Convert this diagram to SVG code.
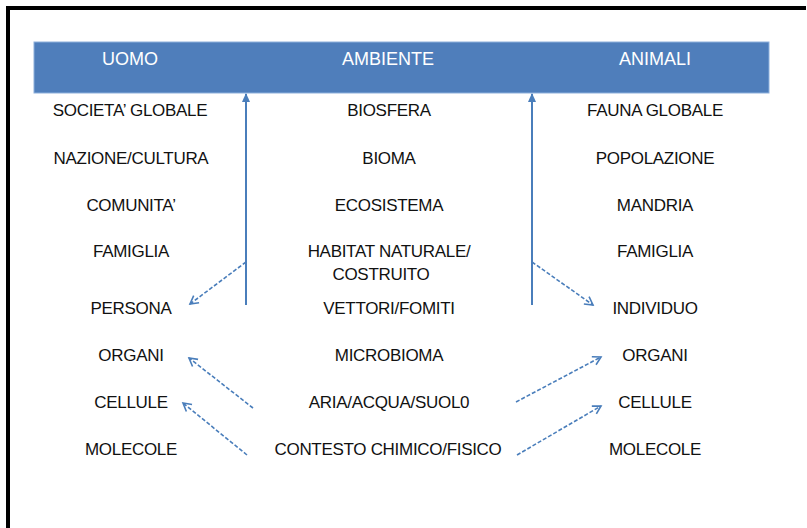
<svg xmlns="http://www.w3.org/2000/svg" width="807" height="528" viewBox="0 0 807 528">
<style>
.t{font-family:"Liberation Sans",Arial,sans-serif;font-size:17px;letter-spacing:-0.3px;fill:#111111;text-anchor:middle}
.h{font-family:"Liberation Sans",Arial,sans-serif;font-size:18px;fill:#ffffff;text-anchor:middle}
.solid{stroke:#4a7ebb;stroke-width:2;fill:none}
.dash{stroke:#4a7ebb;stroke-width:1.6;fill:none;stroke-dasharray:4 2}
</style>
<defs>
<marker id="tri" markerWidth="10" markerHeight="10" refX="8" refY="5" orient="auto" markerUnits="userSpaceOnUse">
<path d="M0,1 L9,5 L0,9 Z" fill="#4a7ebb"/>
</marker>
<marker id="chev" markerWidth="12" markerHeight="12" refX="10" refY="6" orient="auto" markerUnits="userSpaceOnUse">
<path d="M2,1.5 L10,6 L2,10.5" fill="none" stroke="#4a7ebb" stroke-width="1.6"/>
</marker>
</defs>
<rect width="807" height="528" fill="#ffffff"/>
<rect x="6" y="6" width="800" height="4" fill="#000"/>
<rect x="6" y="6" width="4" height="522" fill="#000"/>
<g id="header">
<rect x="34" y="42" width="735" height="51" fill="#4f7ebb" stroke="#8db0dc" stroke-width="1"/>
<text class="h" x="130" y="65">UOMO</text>
<text class="h" x="388" y="65">AMBIENTE</text>
<text class="h" x="655" y="65">ANIMALI</text>
</g>
<g id="uomo">
<text class="t" x="130" y="116">SOCIETA’ GLOBALE</text>
<text class="t" x="131" y="164">NAZIONE/CULTURA</text>
<text class="t" x="131" y="211">COMUNITA’</text>
<text class="t" x="131" y="257">FAMIGLIA</text>
<text class="t" x="131" y="314">PERSONA</text>
<text class="t" x="131" y="361">ORGANI</text>
<text class="t" x="131" y="408">CELLULE</text>
<text class="t" x="131" y="455">MOLECOLE</text>
</g>
<g id="ambiente">
<text class="t" x="389" y="116">BIOSFERA</text>
<text class="t" x="389" y="164">BIOMA</text>
<text class="t" x="389" y="211">ECOSISTEMA</text>
<text class="t" x="389" y="257">HABITAT NATURALE/</text>
<text class="t" x="381" y="280">COSTRUITO</text>
<text class="t" x="389" y="314">VETTORI/FOMITI</text>
<text class="t" x="389" y="361">MICROBIOMA</text>
<text class="t" x="389" y="408">ARIA/ACQUA/SUOL0</text>
<text class="t" x="388" y="455">CONTESTO CHIMICO/FISICO</text>
</g>
<g id="animali">
<text class="t" x="655" y="116">FAUNA GLOBALE</text>
<text class="t" x="655" y="164">POPOLAZIONE</text>
<text class="t" x="655" y="211">MANDRIA</text>
<text class="t" x="655" y="257">FAMIGLIA</text>
<text class="t" x="655" y="314">INDIVIDUO</text>
<text class="t" x="655" y="361">ORGANI</text>
<text class="t" x="655" y="408">CELLULE</text>
<text class="t" x="655" y="455">MOLECOLE</text>
</g>
<g id="connectors">
<line class="solid" x1="246" y1="305" x2="246" y2="94" marker-end="url(#tri)"/>
<line class="solid" x1="532" y1="305" x2="532" y2="94" marker-end="url(#tri)"/>
<line class="dash" x1="246" y1="262" x2="190" y2="304" marker-end="url(#chev)"/>
<line class="dash" x1="532" y1="262" x2="593" y2="305" marker-end="url(#chev)"/>
<line class="dash" x1="253" y1="408" x2="189" y2="358" marker-end="url(#chev)"/>
<line class="dash" x1="247" y1="455" x2="183" y2="403" marker-end="url(#chev)"/>
<line class="dash" x1="516" y1="402" x2="601" y2="357" marker-end="url(#chev)"/>
<line class="dash" x1="517" y1="455" x2="601" y2="406" marker-end="url(#chev)"/>
</g>
</svg>
